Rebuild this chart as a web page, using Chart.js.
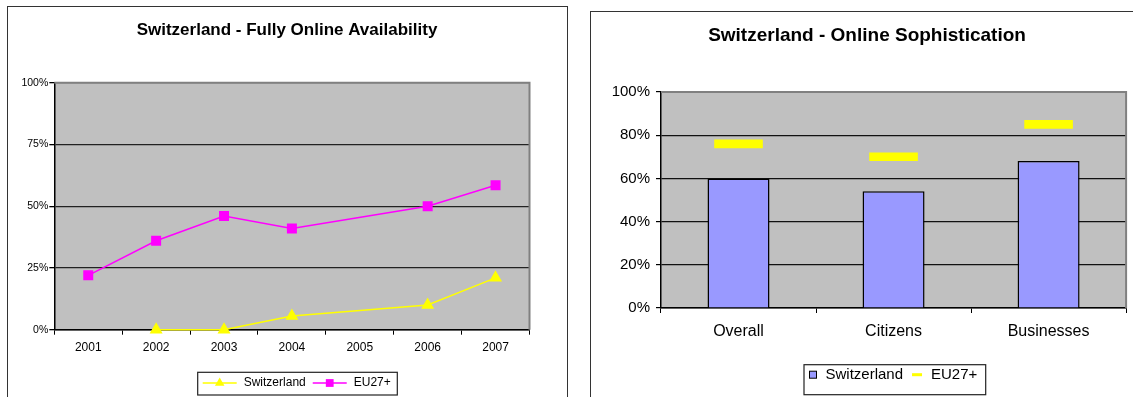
<!DOCTYPE html>
<html lang="en">
<head>
<meta charset="UTF-8">
<title>Switzerland - eGovernment benchmark</title>
<script src="https://cdn.jsdelivr.net/npm/chart.js"></script>
<style>
    body {
        margin: 0;
        width: 1133px;
        height: 397px;
        overflow: hidden;
        position: relative;
        background: #fff;
        font-family: 'Liberation Sans', Arial, sans-serif;
    }
    .frame {
        position: absolute;
        border: 1.5px solid #333;
        box-sizing: border-box;
    }
    #frameLeft { left: 7px; top: 6px; width: 561px; height: 430px; }
    #frameRight { left: 590px; top: 11px; width: 620px; height: 430px; }
    canvas { position: absolute; top: 0; }
    #availabilityChart { left: 0; }
    #sophisticationChart { left: 575px; }
</style>
</head>
<body>
<div class="frame" id="frameLeft"></div>
<div class="frame" id="frameRight"></div>
<canvas id="availabilityChart" width="575" height="397"></canvas>
<canvas id="sophisticationChart" width="584" height="397"></canvas>
<script>
    // Fully online availability, % per year (gaps = no survey value)
    const years = ['2001', '2002', '2003', '2004', '2005', '2006', '2007'];
    const swissAvailability = [null, 0, 0, 5.5, null, 10, 21];
    const euAvailability = [22, 36, 46, 41, null, 50, 58.5];
    const availabilityTicks = [0, 25, 50, 75, 100];

    // Online sophistication, %
    const groups = ['Overall', 'Citizens', 'Businesses'];
    const swissSophistication = [60, 54, 68];
    const euSophistication = [76, 70, 85];
    const sophisticationTicks = [0, 20, 40, 60, 80, 100];

    const FONT = "'Liberation Sans', Arial, sans-serif";
    const YELLOW = '#ffff00';
    const MAGENTA = '#ff00ff';

    // grey plot background, grey top/right edge and the chart caption
    const plotFrame = {
        id: 'plotFrame',
        beforeDraw(chart, args, opts) {
            const a = chart.chartArea, ctx = chart.ctx;
            ctx.save();
            ctx.fillStyle = '#c0c0c0';
            ctx.fillRect(a.left, a.top, a.right - a.left, a.bottom - a.top);
            ctx.fillStyle = '#000';
            ctx.font = opts.font;
            ctx.textAlign = 'center';
            ctx.textBaseline = 'middle';
            ctx.fillText(opts.text, opts.x, opts.y);
            ctx.restore();
        },
        beforeDatasetsDraw(chart) {
            const a = chart.chartArea, ctx = chart.ctx;
            ctx.save();
            ctx.strokeStyle = '#808080';
            ctx.lineWidth = 2;
            ctx.beginPath();
            ctx.moveTo(a.left, a.top);
            ctx.lineTo(a.right, a.top);
            ctx.lineTo(a.right, a.bottom);
            ctx.stroke();
            ctx.restore();
        }
    };

    function drawMarker(ctx, style, x, y, r) {
        ctx.beginPath();
        if (style === 'triangle') {
            ctx.moveTo(x, y - r);
            ctx.lineTo(x + r * 0.866, y + r * 0.5);
            ctx.lineTo(x - r * 0.866, y + r * 0.5);
            ctx.closePath();
            ctx.fill();
        } else if (style === 'rect') {
            const s = r * Math.SQRT1_2;
            ctx.fillRect(x - s, y - s, 2 * s, 2 * s);
        }
    }

    // boxed legend drawn under the plot
    const boxLegend = {
        id: 'boxLegend',
        afterDraw(chart, args, opts) {
            const ctx = chart.ctx;
            ctx.save();
            ctx.fillStyle = '#fff';
            ctx.fillRect(opts.left, opts.top, opts.width, opts.height);
            ctx.strokeStyle = '#222';
            ctx.lineWidth = 1.2;
            ctx.strokeRect(opts.left, opts.top, opts.width, opts.height);
            ctx.font = opts.font;
            ctx.textBaseline = 'middle';
            ctx.textAlign = 'left';
            const y = opts.rowY;
            let x = opts.left + opts.inset;
            chart.data.datasets.forEach(ds => {
                const kind = ds.legendKind;
                if (kind === 'lineMarker') {
                    ctx.strokeStyle = ds.borderColor;
                    ctx.lineWidth = ds.borderWidth;
                    ctx.beginPath();
                    ctx.moveTo(x, y);
                    ctx.lineTo(x + opts.lineLength, y);
                    ctx.stroke();
                    ctx.fillStyle = ds.pointBackgroundColor;
                    drawMarker(ctx, ds.pointStyle, x + opts.lineLength / 2, y, opts.markerRadius);
                    x += opts.lineLength + opts.gap;
                } else if (kind === 'box') {
                    ctx.fillStyle = ds.backgroundColor;
                    ctx.fillRect(x, y - 3.5, 7, 7);
                    ctx.strokeStyle = '#000';
                    ctx.lineWidth = 1;
                    ctx.strokeRect(x, y - 3.5, 7, 7);
                    x += 7 + opts.gap;
                } else if (kind === 'dash') {
                    ctx.fillStyle = ds.pointBorderColor;
                    ctx.fillRect(x, y - 1.5, 10, 3);
                    x += 10 + opts.gap;
                }
                ctx.fillStyle = '#000';
                ctx.fillText(ds.label, x, y);
                x += ctx.measureText(ds.label).width + opts.gap;
            });
            ctx.restore();
        }
    };

    const pct = v => v + '%';

    new Chart(document.getElementById('availabilityChart'), {
        type: 'line',
        data: {
            labels: years,
            datasets: [
                {
                    label: 'Switzerland',
                    data: swissAvailability,
                    borderColor: YELLOW,
                    backgroundColor: YELLOW,
                    pointBackgroundColor: YELLOW,
                    pointBorderColor: YELLOW,
                    pointStyle: 'triangle',
                    pointRadius: 6,
                    borderWidth: 1.5,
                    spanGaps: true,
                    clip: false,
                    legendKind: 'lineMarker'
                },
                {
                    label: 'EU27+',
                    data: euAvailability,
                    borderColor: MAGENTA,
                    backgroundColor: MAGENTA,
                    pointBackgroundColor: MAGENTA,
                    pointBorderColor: MAGENTA,
                    pointStyle: 'rect',
                    pointRadius: 6,
                    borderWidth: 1.5,
                    spanGaps: true,
                    clip: false,
                    legendKind: 'lineMarker'
                }
            ]
        },
        options: {
            responsive: false,
            animation: false,
            devicePixelRatio: 1,
            events: [],
            layout: { padding: { top: 82.7, right: 45.5, left: 0, bottom: 0 } },
            plugins: {
                legend: { display: false },
                tooltip: { enabled: false },
                plotFrame: { text: 'Switzerland - Fully Online Availability', x: 287, y: 30, font: 'bold 17px ' + FONT },
                boxLegend: {
                    left: 197.7, top: 372.3, width: 199.6, height: 22.7, rowY: 383,
                    inset: 5, lineLength: 34, gap: 7, markerRadius: 5.5, font: '12px ' + FONT
                }
            },
            scales: {
                x: {
                    offset: true,
                    afterFit: s => { s.height = 67.3; },
                    grid: { offset: true, drawOnChartArea: false, drawTicks: true, tickLength: 5, color: '#000' },
                    border: { color: '#000', width: 1.5 },
                    ticks: { color: '#000', padding: 6, font: { family: FONT, size: 12 }, maxRotation: 0 }
                },
                y: {
                    min: 0,
                    max: 100,
                    afterFit: s => { s.width = 54.3; },
                    afterBuildTicks: s => { s.ticks = availabilityTicks.map(v => ({ value: v })); },
                    grid: {
                        color: c => (c.tick && c.tick.value === 100) ? '#808080' : '#222',
                        tickColor: '#000',
                        lineWidth: 1.3,
                        tickLength: 5
                    },
                    border: { color: '#000', width: 1.5 },
                    ticks: { color: '#000', padding: 1, font: { family: FONT, size: 10.5 }, callback: pct }
                }
            }
        },
        plugins: [plotFrame, boxLegend]
    });

    new Chart(document.getElementById('sophisticationChart'), {
        type: 'bar',
        data: {
            labels: groups,
            datasets: [
                {
                    label: 'Switzerland',
                    data: swissSophistication,
                    backgroundColor: '#9999ff',
                    borderColor: '#000',
                    borderWidth: 1.5,
                    barPercentage: 0.4,
                    categoryPercentage: 1,
                    legendKind: 'box'
                },
                {
                    type: 'line',
                    label: 'EU27+',
                    data: euSophistication,
                    showLine: false,
                    pointStyle: 'line',
                    pointRadius: 24.3,
                    pointBorderWidth: 8.6,
                    pointBorderColor: YELLOW,
                    pointBackgroundColor: YELLOW,
                    legendKind: 'dash'
                }
            ]
        },
        options: {
            responsive: false,
            animation: false,
            devicePixelRatio: 1,
            events: [],
            layout: { padding: { top: 92, right: 30, left: 0, bottom: 0 } },
            plugins: {
                legend: { display: false },
                tooltip: { enabled: false },
                plotFrame: { text: 'Switzerland - Online Sophistication', x: 292, y: 36, font: 'bold 19px ' + FONT },
                boxLegend: {
                    left: 229, top: 364.7, width: 181.7, height: 30, rowY: 374.7,
                    inset: 5.5, gap: 9, font: '15px ' + FONT
                }
            },
            scales: {
                x: {
                    offset: true,
                    afterFit: s => { s.height = 89; },
                    grid: { offset: true, drawOnChartArea: false, drawTicks: true, tickLength: 5, color: '#000' },
                    border: { color: '#000', width: 1.5 },
                    ticks: { color: '#000', padding: 9, font: { family: FONT, size: 16 }, maxRotation: 0 }
                },
                y: {
                    min: 0,
                    max: 100,
                    afterFit: s => { s.width = 86; },
                    afterBuildTicks: s => { s.ticks = sophisticationTicks.map(v => ({ value: v })); },
                    grid: {
                        color: c => (c.tick && c.tick.value === 100) ? '#808080' : '#111',
                        tickColor: '#000',
                        lineWidth: 1.2,
                        tickLength: 5
                    },
                    border: { color: '#000', width: 1.5 },
                    ticks: { color: '#000', padding: 6, font: { family: FONT, size: 15 }, callback: pct }
                }
            }
        },
        plugins: [plotFrame, boxLegend]
    });
</script>
</body>
</html>
